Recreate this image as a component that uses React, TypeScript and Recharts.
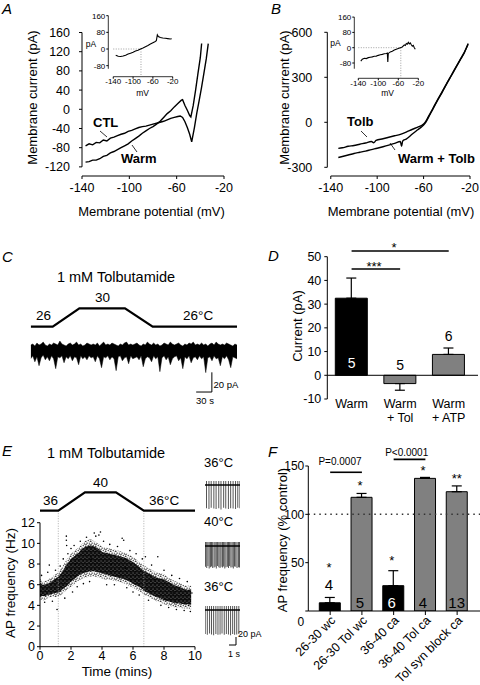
import React from 'react';
import {
  ComposedChart, Line, Area, Bar, Scatter, XAxis, YAxis, ReferenceLine, ErrorBar, Cell,
} from 'recharts';

const FONT = '"Liberation Sans", Arial, Helvetica, sans-serif';

// ---------------- Panel A ----------------
const aXTicks = [-140, -100, -60, -20];
const aYTicks = [-120, -80, -40, 0, 40, 80, 120, 160];
const aCtl: [number, number][] = [
  [-137, -76], [-134, -72], [-131, -74], [-128, -69], [-125, -70], [-122, -64], [-119, -66], [-116, -60],
  [-113, -58], [-110, -55], [-107, -52], [-104, -50], [-101, -46], [-98, -44], [-95, -41], [-92, -38],
  [-89, -36], [-86, -35], [-83, -33], [-80, -31], [-77, -29], [-74, -27], [-71, -25], [-68, -22],
  [-65, -19], [-62, -17], [-59, -15], [-57, -14], [-55, -17], [-53, -26], [-51, -38], [-49, -52],
  [-47.3, -68], [-45, -38], [-43, -8], [-41, 18], [-39, 45], [-37, 75], [-35, 105], [-33.3, 137],
];
const aWarm: [number, number][] = [
  [-137, -110], [-134, -109], [-131, -106], [-128, -106], [-125, -103], [-122, -98], [-119, -96], [-116, -91],
  [-113, -88], [-110, -84], [-107, -80], [-104, -76], [-101, -72], [-98, -66], [-95, -61], [-92, -56],
  [-89, -50], [-86, -45], [-83, -40], [-80, -36], [-77, -31], [-74, -25], [-71, -17], [-68, -9],
  [-65, -3], [-62, 5], [-59, 12], [-56, 19], [-55, 20], [-53, 8], [-51, -2], [-49, -13],
  [-48, -16], [-46, 8], [-44, 40], [-42, 75], [-40, 108], [-38.9, 137],
];
const aInsetXTicks = [-140, -100, -60, -20];
const aInsetYTicks = [-80, 0, 80, 160];
const aInset: [number, number][] = [
  [-135, -30], [-130, -35], [-125, -36], [-120, -34], [-115, -30], [-110, -24], [-105, -20], [-100, -16],
  [-95, -10], [-90, -6], [-85, 0], [-80, 5], [-75, 11], [-70, 17], [-65, 24], [-60, 30], [-56, 35],
  [-53, 40], [-51, 68], [-49, 60], [-45, 55], [-40, 53], [-35, 52], [-30, 50], [-25, 48], [-22, 49],
];
const aReversal = -84;

// ---------------- Panel B ----------------
const bXTicks = [-140, -100, -60, -20];
const bYTicks = [-300, 0, 300, 600];
const bTolb: [number, number][] = [
  [-133.5, -174], [-130, -170], [-125, -160], [-120, -155], [-115, -146], [-110, -138], [-105, -128],
  [-103, -136], [-101, -121], [-95, -110], [-90, -100], [-85, -90], [-80, -80], [-75, -65], [-70, -48],
  [-65, -32], [-62, -22], [-60, -12], [-58, 8], [-56, 36], [-52, 92], [-48, 150], [-44, 205],
  [-40, 260], [-36, 315], [-32, 370], [-28, 425], [-25, 465], [-21.6, 520],
];
const bWarmTolb: [number, number][] = [
  [-133.5, -235], [-130, -228], [-125, -218], [-120, -208], [-115, -200], [-110, -192], [-105, -182],
  [-100, -173], [-95, -163], [-90, -152], [-85, -140], [-80, -128], [-79, -160], [-78, -124],
  [-75, -112], [-70, -80], [-65, -50], [-62, -32], [-60, -18], [-58, 2], [-56, 30], [-52, 88],
  [-48, 146], [-44, 200], [-40, 258], [-36, 312], [-32, 368], [-28, 422], [-25, 462], [-21.6, 525],
];
const bInsetXTicks = [-140, -100, -60, -20];
const bInsetYTicks = [-80, 0, 80, 160];
const bInset: [number, number][] = [
  [-135, -70], [-132, -60], [-128, -55], [-124, -57], [-120, -52], [-116, -50], [-112, -48], [-108, -45],
  [-104, -44], [-100, -40], [-96, -37], [-92, -35], [-88, -32], [-84, -30], [-82, -28], [-81, -75],
  [-80, -30], [-76, -22], [-72, -18], [-68, -12], [-64, -8], [-60, -4], [-56, 0], [-52, 4], [-48, 15],
  [-46, 12], [-44, 22], [-42, 18], [-40, 28], [-38, 20], [-36, 25], [-34, 15], [-32, 8], [-30, 12],
  [-28, 0], [-26, -8],
];
const bReversal = -55;

// ---------------- Panel C ----------------
const cTempTime = [0, 42, 93, 180, 233, 394];
const cTempValue = [26, 26, 30, 30, 26, 26];
const cDuration = 394;
const cHigh = [
  2, 3, 1, 4, 2, 3, 5, 2, 1, 3, 2, 4, 3, 2, 6, 3, 2, 1, 3, 4, 2, 3, 5, 2, 3, 1, 2, 4, 3, 2,
  3, 2, 4, 1, 3, 5, 2, 3, 2, 4, 3, 2, 1, 3, 2, 4, 5, 2, 3, 2, 3, 4, 2, 1, 3, 2, 5, 3, 2, 4,
  2, 3, 1, 2, 4, 3, 2, 5, 3, 2, 3, 4, 2, 1, 3, 2, 4, 3, 5, 2, 3, 2, 4, 2, 3, 1, 3, 4, 2, 5,
  3, 2, 3, 2, 4, 3, 2, 1, 3, 2,
];
const cLow = [
  -12, -9, -15, -10, -19, -11, -8, -13, -10, -14, -9, -12, -22, -10, -11, -9, -16, -10, -12, -9,
  -14, -10, -11, -18, -9, -12, -10, -13, -9, -11, -10, -15, -9, -12, -21, -10, -11, -9, -13, -10,
  -12, -24, -10, -9, -14, -11, -10, -17, -9, -12, -11, -10, -13, -9, -20, -12, -10, -11, -15, -9,
  -12, -10, -25, -11, -9, -13, -10, -18, -12, -10, -9, -14, -11, -22, -10, -12, -9, -16, -11, -10,
  -13, -9, -12, -10, -26, -11, -10, -14, -9, -12, -11, -19, -10, -12, -9, -13, -21, -10, -11, -12,
];
const cScaleSeconds = 30;
const cScalePA = 20;

// ---------------- Panel D ----------------
const dCategories = ['Warm', 'Warm\n+ Tol', 'Warm\n+ ATP'];
const dValues = [32.5, -3.5, 8.8];
const dErrors: [number, number][] = [[0, 8.5], [2.8, 0], [0, 2.7]];
const dN = [5, 5, 6];
const dColors = ['#000000', '#808080', '#808080'];
const dYTicks = [-10, 0, 10, 20, 30, 40, 50];

// ---------------- Panel E ----------------
const eXTicks = [0, 2, 4, 6, 8, 10];
const eYTicks = [0, 2, 4, 6, 8, 10, 12];
const eTempTime = [0, 1.18, 2.9, 4.9, 6.7, 10];
const eTempValue = [36, 36, 40, 40, 36, 36];
const eEnvTime = [
  0, 0.25, 0.5, 0.75, 1, 1.25, 1.5, 1.75, 2, 2.25, 2.5, 2.75, 3, 3.25, 3.5, 3.75, 4, 4.25, 4.5, 4.75,
  5, 5.25, 5.5, 5.75, 6, 6.25, 6.5, 6.75, 7, 7.25, 7.5, 7.75, 8, 8.25, 8.5, 8.75, 9, 9.25, 9.5, 9.75,
];
const eOuterLow = [
  4.6, 4.5, 4.7, 4.8, 4.8, 4.9, 5.2, 5.5, 5.8, 6.1, 6.4, 6.6, 6.7, 6.8, 6.8, 6.7, 6.6, 6.5, 6.5, 6.4,
  6.3, 6.2, 6.1, 5.9, 5.7, 5.5, 5.3, 5.0, 4.8, 4.6, 4.4, 4.3, 4.1, 4.0, 3.9, 3.8, 3.8, 3.7, 3.7, 3.6,
];
const eOuterHigh = [
  6.6, 6.3, 6.5, 6.7, 7.0, 7.3, 7.9, 8.5, 9.0, 9.3, 9.6, 10.0, 10.3, 10.4, 10.2, 10.0, 9.7, 9.6, 9.5, 9.4,
  9.3, 9.2, 9.1, 8.9, 8.7, 8.4, 8.1, 7.8, 7.6, 7.4, 7.2, 7.1, 7.0, 6.7, 6.5, 6.3, 6.2, 6.0, 5.9, 5.9,
];
const eCoreLow = [
  4.9, 4.9, 5.0, 5.1, 5.2, 5.3, 5.6, 5.9, 6.3, 6.6, 6.9, 7.1, 7.2, 7.3, 7.3, 7.2, 7.1, 7.0, 6.9, 6.8,
  6.7, 6.6, 6.5, 6.3, 6.1, 5.9, 5.7, 5.4, 5.2, 5.0, 4.8, 4.7, 4.5, 4.4, 4.3, 4.2, 4.2, 4.1, 4.1, 4.1,
];
const eCoreHigh = [
  6.2, 6.0, 6.1, 6.3, 6.6, 6.9, 7.4, 8.0, 8.5, 8.8, 9.1, 9.5, 9.7, 9.8, 9.7, 9.5, 9.2, 9.1, 9.0, 8.9,
  8.8, 8.7, 8.6, 8.4, 8.2, 7.9, 7.6, 7.3, 7.1, 6.9, 6.7, 6.6, 6.5, 6.3, 6.1, 5.9, 5.8, 5.6, 5.5, 5.5,
];
const eOutliers: [number, number][] = [
  [0.1, 6.9], [0.3, 4.3], [0.5, 7.2], [0.6, 7.9], [0.8, 4.4], [1.0, 7.4], [1.1, 3.6], [1.3, 7.8],
  [1.5, 8.5], [1.6, 4.7], [1.7, 10.7], [1.7, 10.3], [1.72, 9.8], [1.8, 9.0], [2.0, 9.5], [2.1, 5.3],
  [2.2, 9.8], [2.4, 5.8], [2.6, 10.2], [2.8, 6.1], [3.0, 10.6], [3.2, 6.3], [3.5, 11.0], [3.6, 10.7],
  [3.9, 11.1], [3.8, 10.8], [4.1, 10.2], [4.3, 6.0], [4.5, 9.9], [4.8, 6.0], [5.0, 9.7], [5.3, 10.5],
  [5.4, 10.3], [5.6, 5.7], [5.8, 9.3], [6.0, 5.3], [6.2, 9.0], [6.4, 5.0], [6.6, 8.5], [6.8, 8.7],
  [7.0, 4.5], [7.2, 7.9], [7.6, 8.7], [7.8, 4.0], [8.0, 7.4], [8.3, 3.8], [8.5, 6.9], [8.8, 3.6],
  [9.0, 6.6], [9.3, 3.5], [9.5, 6.3], [9.7, 3.4], [9.8, 5.2], [9.6, 4.0], [2.3, 8.0], [3.3, 8.5],
  [4.6, 8.0], [5.5, 7.6], [7.4, 6.5], [8.6, 5.2],
];
const eApTop = [0.15, 0.5, 0.82, 1.2, 1.52, 1.9, 2.22, 2.6, 2.9, 3.28, 3.6, 3.95, 4.3, 4.62, 4.92];
const eApTopDepth = [-58, -60, -57, -59, -60, -58, -61, -57, -59, -60, -58, -59, -60, -57, -58];
const eApMid = [
  0.08, 0.25, 0.42, 0.6, 0.78, 0.93, 1.1, 1.3, 1.45, 1.62, 1.8, 1.98, 2.15, 2.3, 2.5, 2.66, 2.83, 3.0,
  3.2, 3.36, 3.52, 3.7, 3.88, 4.05, 4.22, 4.4, 4.58, 4.78, 4.93,
];
const eApMidDepth = [
  -52, -55, -50, -56, -53, -51, -55, -54, -52, -56, -50, -53, -55, -52, -54, -51, -56, -53, -52, -55,
  -50, -54, -53, -56, -51, -52, -55, -53, -54,
];
const eApBot = [0.1, 0.4, 0.72, 1.0, 1.3, 1.62, 1.92, 2.22, 2.5, 2.82, 3.12, 3.42, 3.72, 4.02, 4.3, 4.6, 4.9];
const eApBotDepth = [-60, -62, -59, -61, -63, -60, -62, -61, -59, -62, -60, -61, -63, -60, -62, -61, -60];
const eApSpikeTop = 10;

// ---------------- Panel F ----------------
const fCategories = ['26-30 wc', '26-30 Tol wc', '36-40 ca', '36-40 Tol ca', 'Tol syn block ca'];
const fValues = [8.5, 117.6, 26.2, 137.2, 123.4];
const fErrors = [5.5, 4, 15.5, 1, 6];
const fN = ['4', '5', '6', '4', '13'];
const fStars = ['*', '*', '*', '*', '**'];
const fColors = ['#000000', '#808080', '#000000', '#808080', '#808080'];
const fYTicks = [0, 50, 100, 150];

// ---------------- build tables ----------------
const pairs = (arr: [number, number][]) => arr.map(([x, y]) => ({ x, y }));
const cTempData = cTempTime.map((s, i) => ({ s, temp: cTempValue[i] }));
const cNoiseData = cHigh.map((h, i) => ({ s: (i * cDuration) / (cHigh.length - 1), band: [cLow[i], h] }));
const dData = dCategories.map((name, i) => ({ name, value: dValues[i], err: dErrors[i] }));
const eEnvData = eEnvTime.map((t, i) => ({
  t, outer: [eOuterLow[i], eOuterHigh[i]], core: [eCoreLow[i], eCoreHigh[i]],
}));
const eTempData = eTempTime.map((t, i) => ({ t, temp: eTempValue[i] }));
const eOutlierData = eOutliers.map(([t, v]) => ({ t, v }));
const spikes = (times: number[], depth: number[]) => times.map((t, i) => ({ t, r: [depth[i], eApSpikeTop] }));
const fData = fCategories.map((name, i) => ({ name, value: fValues[i], err: [0, fErrors[i]] }));

const TICK = { fontSize: 12.5, fill: '#000', fontFamily: FONT };
const SMALL_TICK = { fontSize: 8, fill: '#000', fontFamily: FONT };

const Abs: React.FC<{ left: number; top: number; children: React.ReactNode }> = ({ left, top, children }) => (
  <div style={{ position: 'absolute', left, top }}>{children}</div>
);

const DTick = (props: any) => {
  const { x, y, payload } = props;
  const lines = String(payload.value).split('\n');
  return (
    <text x={x} y={y} textAnchor="middle" fontSize={12.5} fontFamily={FONT} fill="#000">
      {lines.map((l, i) => (
        <tspan key={i} x={x} dy={i === 0 ? 9 : 13.5}>{l}</tspan>
      ))}
    </text>
  );
};

const FTick = (props: any) => {
  const { x, y, payload } = props;
  return (
    <g transform={`translate(${x + 3},${y + 1}) rotate(-45)`}>
      <text x={0} y={0} dy="0.35em" textAnchor="end" fontSize={12.5} fontFamily={FONT} fill="#000">
        {payload.value}
      </text>
    </g>
  );
};

const FYTick = (props: any) => {
  const { x, y, payload } = props;
  const zero = payload.value === 0;
  return (
    <text x={x} y={zero ? y + 11 : y} dy="0.35em" textAnchor="end" fontSize={12} fontFamily={FONT} fill="#000">
      {payload.value}
    </text>
  );
};

const dot = (p: any) => <circle cx={p.cx} cy={p.cy} r={0.8} fill="#000" />;

export default function App() {
  return (
    <div style={{ position: 'absolute', left: 0, top: 0, width: 480, height: 685, background: '#fff', fontFamily: FONT, overflow: 'hidden' }}>
      <svg width={0} height={0} style={{ position: 'absolute' }}>
        <defs>
          <pattern id="speckleSparse" width={5} height={5} patternUnits="userSpaceOnUse">
            <circle cx={0.8} cy={1.2} r={0.7} fill="#000" />
            <circle cx={3.2} cy={0.6} r={0.6} fill="#000" />
            <circle cx={2.1} cy={3.1} r={0.7} fill="#000" />
            <circle cx={4.3} cy={3.9} r={0.6} fill="#000" />
            <circle cx={1.0} cy={4.4} r={0.55} fill="#000" />
            <circle cx={4.2} cy={2.0} r={0.45} fill="#000" />
          </pattern>
          <pattern id="speckleDense" width={4} height={4} patternUnits="userSpaceOnUse">
            <rect x={0} y={0} width={4} height={4} fill="#000" />
            <circle cx={1} cy={1} r={0.45} fill="#fff" />
            <circle cx={3} cy={2.7} r={0.4} fill="#fff" />
          </pattern>
        </defs>
      </svg>

      {/* Panel A main */}
      <Abs left={0} top={0}>
        <ComposedChart width={240} height={200} margin={{ top: 32.5, right: 16, bottom: 4, left: 42 }}>
          <XAxis type="number" dataKey="x" domain={[-140, -20]} ticks={aXTicks} interval={0} tickSize={3} tickMargin={4}
            stroke="#000" tick={TICK} height={20} allowDataOverflow />
          <YAxis type="number" domain={[-139, 160]} ticks={aYTicks} interval={0} tickSize={3} tickMargin={9}
            axisLine={false} stroke="#000" tick={TICK} width={40} allowDataOverflow />
          <ReferenceLine segment={[{ x: -140, y: -120 }, { x: -140, y: 160 }]} stroke="#000" />
          <Line data={pairs(aCtl)} dataKey="y" stroke="#000" strokeWidth={1.4} dot={false} isAnimationActive={false} />
          <Line data={pairs(aWarm)} dataKey="y" stroke="#000" strokeWidth={1.4} dot={false} isAnimationActive={false} />
        </ComposedChart>
      </Abs>
      {/* Panel A inset */}
      <Abs left={0} top={0}>
        <ComposedChart width={180} height={100} margin={{ top: 15.7, right: 7.3, bottom: 9.3, left: 88.3 }}>
          <XAxis type="number" dataKey="x" domain={[-150, -20]} ticks={aInsetXTicks} interval={0} tickSize={2} tickMargin={0}
            axisLine={false} stroke="#000" tick={SMALL_TICK} height={14} allowDataOverflow />
          <YAxis type="number" domain={[-133, 160]} ticks={aInsetYTicks} interval={0} tickSize={2} tickMargin={1}
            axisLine={false} stroke="#000" tick={SMALL_TICK} width={20} allowDataOverflow />
          <ReferenceLine segment={[{ x: -150, y: -95 }, { x: -150, y: 160 }]} stroke="#000" strokeWidth={0.8} />
          <ReferenceLine segment={[{ x: -140, y: -133 }, { x: -20, y: -133 }]} stroke="#000" strokeWidth={0.8} />
          <ReferenceLine segment={[{ x: -140, y: 0 }, { x: aReversal, y: 0 }]} stroke="#888" strokeDasharray="1 1.5" strokeWidth={0.8} />
          <ReferenceLine segment={[{ x: aReversal, y: 0 }, { x: aReversal, y: -133 }]} stroke="#888" strokeDasharray="1 1.5" strokeWidth={0.8} />
          <Line data={pairs(aInset)} dataKey="y" stroke="#000" strokeWidth={1.1} dot={false} isAnimationActive={false} />
        </ComposedChart>
      </Abs>

      {/* Panel B main */}
      <Abs left={240} top={0}>
        <ComposedChart width={240} height={200} margin={{ top: 32.3, right: 10, bottom: 4, left: 47.3 }}>
          <XAxis type="number" dataKey="x" domain={[-143, -20]} ticks={bXTicks} interval={0} tickSize={3} tickMargin={4}
            axisLine={false} stroke="#000" tick={TICK} height={20} allowDataOverflow />
          <YAxis type="number" domain={[-358, 600]} ticks={bYTicks} interval={0} tickSize={3} tickMargin={12}
            axisLine={false} stroke="#000" tick={TICK} width={40} allowDataOverflow />
          <ReferenceLine segment={[{ x: -143, y: -300 }, { x: -143, y: 600 }]} stroke="#000" />
          <ReferenceLine segment={[{ x: -140, y: -358 }, { x: -20, y: -358 }]} stroke="#000" />
          <Line data={pairs(bTolb)} dataKey="y" type="monotone" stroke="#000" strokeWidth={1.4} dot={false} isAnimationActive={false} />
          <Line data={pairs(bWarmTolb)} dataKey="y" type="monotone" stroke="#000" strokeWidth={1.4} dot={false} isAnimationActive={false} />
        </ComposedChart>
      </Abs>
      {/* Panel B inset */}
      <Abs left={240} top={0}>
        <ComposedChart width={190} height={100} margin={{ top: 17.1, right: 11.7, bottom: 7.7, left: 94.3 }}>
          <XAxis type="number" dataKey="x" domain={[-148, -20]} ticks={bInsetXTicks} interval={0} tickSize={2} tickMargin={0}
            axisLine={false} stroke="#000" tick={SMALL_TICK} height={14} allowDataOverflow />
          <YAxis type="number" domain={[-160, 160]} ticks={bInsetYTicks} interval={0} tickSize={2} tickMargin={1}
            axisLine={false} stroke="#000" tick={SMALL_TICK} width={20} allowDataOverflow />
          <ReferenceLine segment={[{ x: -148, y: -110 }, { x: -148, y: 160 }]} stroke="#000" strokeWidth={0.8} />
          <ReferenceLine segment={[{ x: -140, y: -160 }, { x: -20, y: -160 }]} stroke="#000" strokeWidth={0.8} />
          <ReferenceLine segment={[{ x: -140, y: 0 }, { x: bReversal, y: 0 }]} stroke="#888" strokeDasharray="1 1.5" strokeWidth={0.8} />
          <ReferenceLine segment={[{ x: bReversal, y: 0 }, { x: bReversal, y: -160 }]} stroke="#888" strokeDasharray="1 1.5" strokeWidth={0.8} />
          <Line data={pairs(bInset)} dataKey="y" stroke="#000" strokeWidth={1.1} dot={false} isAnimationActive={false} />
        </ComposedChart>
      </Abs>

      {/* Panel C */}
      <Abs left={0} top={0}>
        <ComposedChart width={240} height={420} data={cNoiseData} margin={{ top: 300, right: 3, bottom: 20, left: 30.7 }}>
          <XAxis type="number" dataKey="s" domain={[0, cDuration]} hide allowDataOverflow />
          <YAxis yAxisId="t" type="number" domain={[10.07, 31.8]} hide allowDataOverflow />
          <YAxis yAxisId="i" type="number" domain={[-53.8, 47.7]} hide allowDataOverflow />
          <Area yAxisId="i" dataKey="band" type="linear" stroke="#000" strokeWidth={0.5} fill="#000" fillOpacity={1} isAnimationActive={false} />
          <Line yAxisId="t" data={cTempData} dataKey="temp" stroke="#000" strokeWidth={2.2} dot={false} isAnimationActive={false} />
          <ReferenceLine yAxisId="i" segment={[{ x: 346 - cScaleSeconds, y: -45.7 }, { x: 346, y: -45.7 }]} stroke="#000" strokeWidth={1} />
          <ReferenceLine yAxisId="i" segment={[{ x: 346, y: -45.7 }, { x: 346, y: -45.7 + cScalePA }]} stroke="#000" strokeWidth={1} />
        </ComposedChart>
      </Abs>

      {/* Panel D */}
      <Abs left={240} top={200}>
        <ComposedChart width={240} height={240} data={dData} margin={{ top: 56.7, right: 2, bottom: 11, left: 47.3 }}>
          <XAxis type="category" dataKey="name" axisLine={false} tickLine={false} tickSize={0} tickMargin={0}
            tick={<DTick />} height={30} padding={{ left: 0, right: 5 }} interval={0} />
          <YAxis type="number" domain={[-10, 50]} ticks={dYTicks} interval={0} tickSize={3} tickMargin={3} stroke="#000"
            tick={TICK} width={40} allowDataOverflow />
          <ReferenceLine y={0} stroke="#000" strokeWidth={1} />
          <Bar dataKey="value" barSize={32} stroke="#000" strokeWidth={1} isAnimationActive={false}>
            {dData.map((_, i) => <Cell key={i} fill={dColors[i]} />)}
            <ErrorBar dataKey="err" width={5} stroke="#000" strokeWidth={1.2} direction="y" />
          </Bar>
          <ReferenceLine segment={[{ x: dCategories[0], y: 52.4 }, { x: dCategories[2], y: 52.4 }]} stroke="#000" strokeWidth={1.6} ifOverflow="visible" />
          <ReferenceLine segment={[{ x: dCategories[0], y: 44.8 }, { x: dCategories[1], y: 44.8 }]} stroke="#000" strokeWidth={1.6} ifOverflow="visible" />
        </ComposedChart>
      </Abs>

      {/* Panel E main */}
      <Abs left={0} top={440}>
        <ComposedChart width={240} height={245} data={eEnvData} margin={{ top: 45, right: 45, bottom: 16.3, left: 4 }}>
          <XAxis type="number" dataKey="t" domain={[0, 10]} ticks={eXTicks} interval={0} tickSize={3} tickMargin={1}
            stroke="#000" tick={TICK} height={22} allowDataOverflow />
          <YAxis type="number" domain={[0, 15.65]} ticks={eYTicks} interval={0} tickSize={3} tickMargin={2}
            axisLine={false} stroke="#000" tick={TICK} width={36} allowDataOverflow />
          <YAxis yAxisId="t" type="number" domain={[6.43, 41.59]} hide allowDataOverflow />
          <ReferenceLine segment={[{ x: 0, y: 0 }, { x: 0, y: 12 }]} stroke="#000" />
          <ReferenceLine segment={[{ x: eTempTime[1], y: 0 }, { x: eTempTime[1], y: 13.17 }]} stroke="#999" strokeDasharray="1 1.5" strokeWidth={0.8} />
          <ReferenceLine segment={[{ x: eTempTime[4], y: 0 }, { x: eTempTime[4], y: 13.17 }]} stroke="#999" strokeDasharray="1 1.5" strokeWidth={0.8} />
          <Area dataKey="outer" type="monotone" stroke="none" fill="url(#speckleSparse)" fillOpacity={1} isAnimationActive={false} />
          <Area dataKey="core" type="monotone" stroke="none" fill="url(#speckleDense)" fillOpacity={0.92} isAnimationActive={false} />
          <Scatter data={eOutlierData} dataKey="v" shape={dot} isAnimationActive={false} />
          <Line yAxisId="t" data={eTempData} dataKey="temp" stroke="#000" strokeWidth={2.2} dot={false} isAnimationActive={false} />
        </ComposedChart>
      </Abs>

      {/* Panel E AP traces */}
      <Abs left={200} top={470}>
        <ComposedChart width={45} height={45} data={spikes(eApTop, eApTopDepth)} margin={{ top: 8, right: 5, bottom: 5, left: 5 }}>
          <XAxis type="number" dataKey="t" domain={[0, 5]} hide allowDataOverflow />
          <YAxis type="number" domain={[-62.5, 17.5]} hide allowDataOverflow />
          <Bar dataKey="r" barSize={1} fill="#555" isAnimationActive={false} />
          <ReferenceLine y={0} stroke="#000" strokeWidth={1.5} />
        </ComposedChart>
      </Abs>
      <Abs left={200} top={530}>
        <ComposedChart width={45} height={45} data={spikes(eApMid, eApMidDepth)} margin={{ top: 6, right: 5, bottom: 5, left: 5 }}>
          <XAxis type="number" dataKey="t" domain={[0, 5]} hide allowDataOverflow />
          <YAxis type="number" domain={[-60, 25]} hide allowDataOverflow />
          <Bar dataKey="r" barSize={1} fill="#555" isAnimationActive={false} />
          <ReferenceLine y={0} stroke="#000" strokeWidth={1.5} />
        </ComposedChart>
      </Abs>
      <Abs left={200} top={590}>
        <ComposedChart width={45} height={65} data={spikes(eApBot, eApBotDepth)} margin={{ top: 8, right: 5, bottom: 5, left: 5 }}>
          <XAxis type="number" dataKey="t" domain={[0, 5]} hide allowDataOverflow />
          <YAxis type="number" domain={[-100, 30]} hide allowDataOverflow />
          <Bar dataKey="r" barSize={1} fill="#555" isAnimationActive={false} />
          <ReferenceLine y={0} stroke="#000" strokeWidth={1.5} />
          <ReferenceLine segment={[{ x: 3.43, y: -87.5 }, { x: 4.43, y: -87.5 }]} stroke="#000" strokeWidth={1} />
          <ReferenceLine segment={[{ x: 4.43, y: -87.5 }, { x: 4.43, y: -67.5 }]} stroke="#000" strokeWidth={1} />
        </ComposedChart>
      </Abs>

      {/* Panel F */}
      <Abs left={240} top={440}>
        <ComposedChart width={240} height={245} data={fData} margin={{ top: 26, right: 0, bottom: 14, left: 38.3 }}>
          <XAxis type="category" dataKey="name" tickSize={4} tickMargin={2} stroke="#000" tick={<FTick />}
            height={60} padding={{ left: 6, right: 7 }} interval={0} />
          <YAxis type="number" domain={[0, 150]} ticks={fYTicks} interval={0} tickSize={3} tickMargin={1} stroke="#000"
            tick={<FYTick />} width={30} allowDataOverflow />
          <ReferenceLine y={100} stroke="#333" strokeDasharray="1.5 4" strokeWidth={1.5} />
          <Bar dataKey="value" barSize={21} stroke="#000" strokeWidth={1} isAnimationActive={false}>
            {fData.map((_, i) => <Cell key={i} fill={fColors[i]} />)}
            <ErrorBar dataKey="err" width={5} stroke="#000" strokeWidth={1.2} direction="y" />
          </Bar>
          <ReferenceLine segment={[{ x: fCategories[0], y: 143.5 }, { x: fCategories[1], y: 143.5 }]} stroke="#000" strokeWidth={1.6} ifOverflow="visible" />
          <ReferenceLine segment={[{ x: fCategories[2], y: 156.9 }, { x: fCategories[3], y: 156.9 }]} stroke="#000" strokeWidth={1.6} ifOverflow="visible" />
        </ComposedChart>
      </Abs>

      {/* Text annotations overlay */}
      <svg width={480} height={685} style={{ position: 'absolute', left: 0, top: 0, pointerEvents: 'none' }}
        fontFamily={FONT}>
        <g fontSize={15} fontStyle="italic">
          <text x={2} y={14}>A</text>
          <text x={271} y={14}>B</text>
          <text x={2} y={262}>C</text>
          <text x={268} y={261}>D</text>
          <text x={2} y={456}>E</text>
          <text x={268} y={457}>F</text>
        </g>
        {/* A */}
        <text x={32} y={97.5} fontSize={13} textAnchor="middle" dominantBaseline="central" transform="rotate(-90 32 97.5)">Membrane current (pA)</text>
        <text x={151.5} y={216} fontSize={13} textAnchor="middle">Membrane potential (mV)</text>
        <text x={93} y={127} fontSize={13} fontWeight="bold">CTL</text>
        <text x={121} y={163} fontSize={13} fontWeight="bold">Warm</text>
        <line x1={100} y1={131} x2={107} y2={137} stroke="#000" strokeWidth={0.8} />
        <line x1={132} y1={145} x2={137} y2={152} stroke="#000" strokeWidth={0.8} />
        <text x={91} y={47} fontSize={8.5} textAnchor="middle">pA</text>
        <text x={142.5} y={96} fontSize={8.5} textAnchor="middle">mV</text>
        {/* B */}
        <text x={284} y={97.5} fontSize={13} textAnchor="middle" dominantBaseline="central" transform="rotate(-90 284 97.5)">Membrane current (pA)</text>
        <text x={401} y={216} fontSize={13} textAnchor="middle">Membrane potential (mV)</text>
        <text x={347} y={126} fontSize={13} fontWeight="bold">Tolb</text>
        <text x={398} y={163} fontSize={13} fontWeight="bold">Warm + Tolb</text>
        <line x1={361} y1={131} x2={367} y2={137} stroke="#000" strokeWidth={0.8} />
        <line x1={390} y1={143} x2={395} y2={150} stroke="#000" strokeWidth={0.8} />
        <text x={335.5} y={46} fontSize={8.5} textAnchor="middle">pA</text>
        <text x={387.5} y={96} fontSize={8.5} textAnchor="middle">mV</text>
        {/* C */}
        <text x={116} y={282} fontSize={14.5} textAnchor="middle">1 mM Tolbutamide</text>
        <text x={102.5} y={302} fontSize={13.5} textAnchor="middle">30</text>
        <text x={36} y={320} fontSize={13.5}>26</text>
        <text x={183} y={320} fontSize={13.5}>26°C</text>
        <text x={213.5} y={388} fontSize={9.5}>20 pA</text>
        <text x={196} y={404} fontSize={9.5}>30 s</text>
        {/* D */}
        <text x={297} y={326} fontSize={13} textAnchor="middle" dominantBaseline="central" transform="rotate(-90 297 326)">Current (pA)</text>
        <text x={394} y={252} fontSize={13} textAnchor="middle">*</text>
        <text x={374} y={270.5} fontSize={13} textAnchor="middle">***</text>
        <text x={351.6} y={368} fontSize={14} textAnchor="middle" fill="#fff">{dN[0]}</text>
        <text x={400.2} y={370} fontSize={14} textAnchor="middle">{dN[1]}</text>
        <text x={448.7} y={341} fontSize={14} textAnchor="middle">{dN[2]}</text>
        {/* E */}
        <text x={106} y={458} fontSize={14.5} textAnchor="middle">1 mM Tolbutamide</text>
        <text x={43} y={505} fontSize={13.5}>36</text>
        <text x={93} y={487} fontSize={13.5}>40</text>
        <text x={149} y={505} fontSize={13.5}>36°C</text>
        <text x={204} y={467} fontSize={13}>36°C</text>
        <text x={204} y={526} fontSize={13}>40°C</text>
        <text x={204} y={591} fontSize={13}>36°C</text>
        <text x={10} y={583} fontSize={13.5} textAnchor="middle" dominantBaseline="central" transform="rotate(-90 10 583)">AP frequency (Hz)</text>
        <text x={117} y={676} fontSize={13.5} textAnchor="middle">Time (mins)</text>
        <text x={238} y={637} fontSize={9}>20 pA</text>
        <text x={228} y={657} fontSize={9}>1 s</text>
        {/* F */}
        <text x={282} y={540} fontSize={13} textAnchor="middle" dominantBaseline="central" transform="rotate(-90 282 540)">AP frequency (% control)</text>
        <text x={340} y={465} fontSize={10} textAnchor="middle">P=0.0007</text>
        <text x={406.7} y={456} fontSize={10} textAnchor="middle">P&lt;0.0001</text>
        <text x={329} y={571.5} fontSize={13} textAnchor="middle">{fStars[0]}</text>
        <text x={360} y={490} fontSize={13} textAnchor="middle">{fStars[1]}</text>
        <text x={391.7} y={565} fontSize={13} textAnchor="middle">{fStars[2]}</text>
        <text x={423} y={475} fontSize={13} textAnchor="middle">{fStars[3]}</text>
        <text x={456.7} y={483} fontSize={13} textAnchor="middle">{fStars[4]}</text>
        <text x={329} y={589.5} fontSize={15} textAnchor="middle">{fN[0]}</text>
        <text x={360} y={608} fontSize={15} textAnchor="middle">{fN[1]}</text>
        <text x={391.7} y={608} fontSize={15} textAnchor="middle" fill="#fff">{fN[2]}</text>
        <text x={423} y={608} fontSize={15} textAnchor="middle">{fN[3]}</text>
        <text x={456.7} y={608} fontSize={15} textAnchor="middle">{fN[4]}</text>
      </svg>
    </div>
  );
}
